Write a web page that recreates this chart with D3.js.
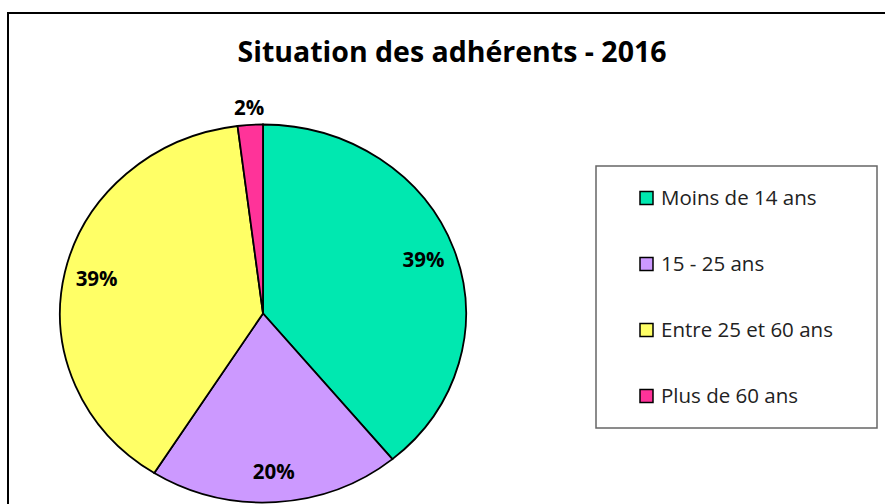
<!DOCTYPE html>
<html>
<head>
<meta charset="utf-8">
<script src="https://cdn.jsdelivr.net/npm/d3@7"></script>
<style>
  body { margin: 0; background: #fff; }
  text { font-family: "Open Sans", "Noto Sans", sans-serif; }
</style>
</head>
<body>
<div id="chart"></div>
<script>
// data
var categories = ["Moins de 14 ans", "15 - 25 ans", "Entre 25 et 60 ans", "Plus de 60 ans"];
var shares = [39, 20, 39, 2];
var sliceColors = ["#00E8B0", "#CC99FF", "#FFFF66", "#FF3399"];
var chartTitle = "Situation des adhérents - 2016";

var width = 885,
    height = 504;

var svg = d3.select("#chart").append("svg").attr("width", width).attr("height", height);

// outer chart frame (runs off the right and bottom edges)
svg.append("rect")
    .attr("x", 8).attr("y", 13)
    .attr("width", 900).attr("height", 520)
    .attr("fill", "none")
    .attr("stroke", "#000")
    .attr("stroke-width", 2);

svg.append("text")
    .attr("x", 452).attr("y", 62)
    .attr("text-anchor", "middle")
    .attr("font-size", "28.5px")
    .attr("font-weight", "bold")
    .attr("fill", "#000")
    .text(chartTitle);

var color = d3.scaleOrdinal().domain(categories).range(sliceColors);

var pieData = categories.map(function (c, i) {
    return { name: c, value: shares[i] };
});

var pie = d3.pie().sort(null).value(d => d.value);
var arcs = pie(pieData);

var r = 189;
var arc = d3.arc().innerRadius(0).outerRadius(r);
var labelArc = d3.arc().innerRadius(r * 0.84).outerRadius(r * 0.84);
var outerLabelArc = d3.arc().innerRadius(r * 1.09).outerRadius(r * 1.09);

// excel stretched the pie a bit horizontally
var sx = 203 / 189;
var pieG = svg.append("g").attr("transform", "translate(263,313.5)");

pieG.selectAll("path")
    .data(arcs)
    .join("path")
    .attr("d", arc)
    .attr("transform", "scale(" + sx + ",1)")
    .attr("fill", d => color(d.data.name))
    .attr("stroke", "#000")
    .attr("stroke-width", 1.8)
    .attr("vector-effect", "non-scaling-stroke");

pieG.selectAll(".lbl")
    .data(arcs)
    .join("text")
    .attr("class", "lbl")
    .attr("transform", function (d) {
        var c = d.data.value < 5 ? outerLabelArc.centroid(d) : labelArc.centroid(d);
        return "translate(" + (c[0] * sx) + "," + c[1] + ")";
    })
    .attr("text-anchor", "middle")
    .attr("dy", "0.35em")
    .attr("font-size", "20.5px")
    .attr("font-weight", "bold")
    .attr("fill", "#000")
    .text(d => d.data.value + "%");

// legend
var legend = svg.append("g");
legend.append("rect")
    .attr("x", 596).attr("y", 166)
    .attr("width", 281).attr("height", 262)
    .attr("fill", "#fff")
    .attr("stroke", "#666")
    .attr("stroke-width", 1.5);

var rowY = d3.scalePoint().domain(categories).range([198, 396]);

var items = legend.selectAll(".item")
    .data(categories)
    .join("g")
    .attr("class", "item")
    .attr("transform", d => "translate(640," + rowY(d) + ")");

items.append("rect")
    .attr("x", 0).attr("y", -6.5)
    .attr("width", 13).attr("height", 13)
    .attr("fill", d => color(d))
    .attr("stroke", "#000")
    .attr("stroke-width", 1.5);

items.append("text")
    .attr("x", 21)
    .attr("dy", "0.35em")
    .attr("font-size", "20.5px")
    .attr("fill", "#222")
    .text(d => d);
</script>
</body>
</html>
